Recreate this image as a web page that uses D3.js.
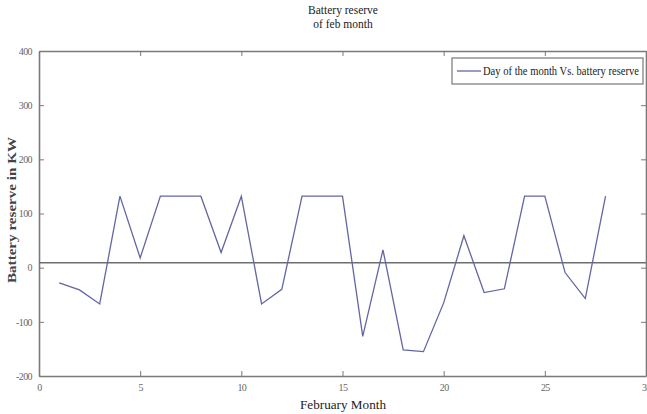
<!DOCTYPE html>
<html>
<head>
<meta charset="utf-8">
<script src="https://cdn.jsdelivr.net/npm/d3@7"></script>
<style>
  body { margin: 0; background: #fff; }
  text { font-family: "Liberation Serif", "DejaVu Serif", serif; }
</style>
</head>
<body>
<div id="chart"></div>
<script>
// chart data
const days = [1, 2, 3, 4, 5, 6, 7, 8, 9, 10, 11, 12, 13, 14, 15, 16, 17, 18, 19, 20, 21, 22, 23, 24, 25, 26, 27, 28];
const reserve = [-28, -41, -67, 132, 18, 132, 132, 132, 28, 132, -67, -40, 132, 132, 132, -127, 33, -152, -155, -65, 59, -46, -39, 132, 132, -9, -57, 132];
const refLevel = 9;
const xTicks = [0, 5, 10, 15, 20, 25, 30];
const yTicks = [-200, -100, 0, 100, 200, 300, 400];
const titleLines = ["Battery reserve", "of feb month"];
const legendLabel = "Day of the month Vs. battery reserve";

// frame
const FRAME_WIDTH = 647;
const FRAME_HEIGHT = 414;
const MARGINS = {left: 39, right: 1, top: 51, bottom: 38};
const VIS_WIDTH = FRAME_WIDTH - MARGINS.left - MARGINS.right;
const VIS_HEIGHT = FRAME_HEIGHT - MARGINS.top - MARGINS.bottom;

const svg = d3.select("#chart")
  .append("svg")
    .attr("width", FRAME_WIDTH)
    .attr("height", FRAME_HEIGHT);

const g = svg.append("g")
  .attr("transform", "translate(" + MARGINS.left + "," + MARGINS.top + ")");

const x = d3.scaleLinear().domain([0, 30]).range([0, VIS_WIDTH]);
const y = d3.scaleLinear().domain([-200, 400]).range([VIS_HEIGHT, 0]);

const axisColor = "#7a7a7a";
const plain = (d) => String(d);

// axes, matlab style: ticks pointing inwards, box on all sides
const xAxis = g.append("g")
  .attr("transform", "translate(0," + VIS_HEIGHT + ")")
  .call(d3.axisBottom(x).tickValues(xTicks).tickFormat(plain).tickSizeInner(-5).tickSizeOuter(0).tickPadding(10));
const yAxis = g.append("g")
  .call(d3.axisLeft(y).tickValues(yTicks).tickFormat(plain).tickSizeInner(-5).tickSizeOuter(0).tickPadding(7));
const xTop = g.append("g")
  .call(d3.axisTop(x).tickValues(xTicks).tickSizeInner(-5).tickSizeOuter(0).tickFormat(""));
const yRight = g.append("g")
  .attr("transform", "translate(" + VIS_WIDTH + ",0)")
  .call(d3.axisRight(y).tickValues(yTicks).tickSizeInner(-5).tickSizeOuter(0).tickFormat(""));

[xAxis, yAxis, xTop, yRight].forEach((a) => {
  a.select(".domain").attr("stroke", axisColor).attr("stroke-width", 1.6);
  a.selectAll(".tick line").attr("stroke", axisColor).attr("stroke-width", 1);
  a.selectAll(".tick text")
    .attr("fill", "#666")
    .attr("font-size", 10)
    .attr("letter-spacing", -0.6)
    .attr("font-family", "Liberation Serif, serif");
});
xAxis.selectAll(".tick text").attr("dy", "0.5em");

// reference line near zero
g.append("line")
  .attr("x1", 0)
  .attr("x2", VIS_WIDTH)
  .attr("y1", y(refLevel))
  .attr("y2", y(refLevel))
  .attr("stroke", "#6e6e6e")
  .attr("stroke-width", 1.4);

// the series
const points = days.map((d, i) => ({day: d, value: reserve[i]}));
g.append("path")
  .datum(points)
  .attr("fill", "none")
  .attr("stroke", "#6366a3")
  .attr("stroke-width", 1.3)
  .attr("d", d3.line()
    .x((d) => x(d.day))
    .y((d) => y(d.value)));

// legend
const legend = g.append("g").attr("transform", "translate(" + (452 - MARGINS.left) + "," + (58 - MARGINS.top) + ")");
legend.append("rect")
  .attr("width", 191)
  .attr("height", 26)
  .attr("fill", "#fff")
  .attr("stroke", "#777")
  .attr("stroke-width", 1.2);
legend.append("line")
  .attr("x1", 5).attr("x2", 29)
  .attr("y1", 13).attr("y2", 13)
  .attr("stroke", "#6366a3")
  .attr("stroke-width", 1.3);
legend.append("text")
  .attr("x", 31)
  .attr("y", 17)
  .attr("font-size", 12.5)
  .attr("fill", "#222")
  .attr("textLength", 156)
  .attr("lengthAdjust", "spacingAndGlyphs")
  .text(legendLabel);

// title
svg.append("text")
  .attr("text-anchor", "middle")
  .attr("font-size", 11.5)
  .attr("fill", "#222")
  .selectAll("tspan")
  .data(titleLines)
  .enter()
  .append("tspan")
    .attr("x", 343)
    .attr("y", (d, i) => 14 + i * 14)
    .text((d) => d);

// axis labels
svg.append("text")
  .attr("x", 343)
  .attr("y", 409)
  .attr("text-anchor", "middle")
  .attr("font-size", 12.5)
  .attr("fill", "#222")
  .attr("textLength", 86)
  .attr("lengthAdjust", "spacingAndGlyphs")
  .text("February Month");

svg.append("text")
  .attr("transform", "translate(16,210) rotate(-90)")
  .attr("text-anchor", "middle")
  .attr("font-size", 12.5)
  .attr("font-weight", "bold")
  .attr("fill", "#444")
  .attr("textLength", 146)
  .attr("lengthAdjust", "spacingAndGlyphs")
  .text("Battery reserve in KW");
</script>
</body>
</html>
